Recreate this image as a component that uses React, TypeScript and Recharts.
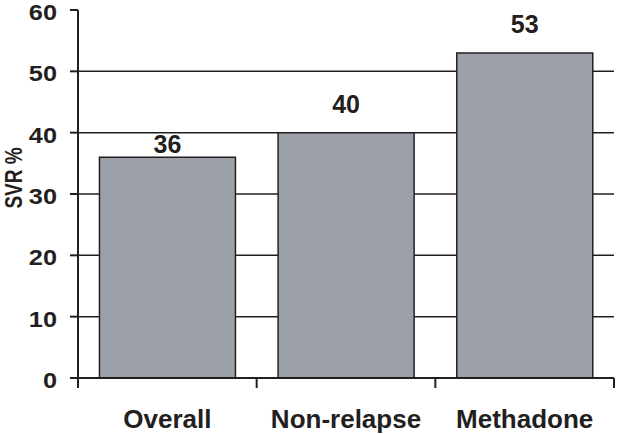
import React from 'react';
import { BarChart, Bar, XAxis, YAxis, CartesianGrid, LabelList, Label } from 'recharts';

const categories = ['Overall', 'Non-relapse', 'Methadone'];
const svrValues = [36, 40, 53];
const yTicks = [0, 10, 20, 30, 40, 50, 60];
const gridValues = [10, 20, 30, 40, 50];

const data = categories.map((name, i) => ({ name, svr: svrValues[i] }));

const FONT = '"Liberation Sans", Arial, Helvetica, sans-serif';
const INK = '#231f20';

const XTick = (props: any) => {
  const { x, y, payload, index, visibleTicksCount } = props;
  const off = payload && payload.offset ? payload.offset : 0;
  const isLast = index === (visibleTicksCount || 3) - 1;
  return (
    <g>
      <line x1={x - off} x2={x - off} y1={y} y2={y + 10} stroke={INK} strokeWidth={2} />
      {isLast && <line x1={x + off} x2={x + off} y1={y} y2={y + 10} stroke={INK} strokeWidth={2} />}
      <text x={x} y={y + 50} textAnchor="middle" fontFamily={FONT} fontWeight="bold" fontSize={26} fill={INK}>
        {payload.value}
      </text>
    </g>
  );
};

const YTick = (props: any) => {
  const { x, y, payload } = props;
  return (
    <text
      transform={`translate(${x}, ${y + 2.5}) scale(1.15, 1)`}
      x={0}
      y={0}
      textAnchor="end"
      dominantBaseline="central"
      fontFamily={FONT}
      fontWeight="bold"
      fontSize={22}
      fill={INK}
    >
      {payload.value}
    </text>
  );
};

const ValueLabel = (props: any) => {
  const { x, y, width, value } = props;
  const lift = value === 36 ? 4 : 20;
  return (
    <text x={x + width / 2} y={y - lift} textAnchor="middle" fontFamily={FONT} fontWeight="bold" fontSize={25} fill={INK}>
      {value}
    </text>
  );
};

const YLabel = (props: any) => {
  const vb = props.viewBox || { x: 0, y: 10, width: 78, height: 368 };
  const cx = vb.x + 14;
  const cy = vb.y + vb.height / 2 - 16;
  return (
    <text
      transform={`translate(${cx}, ${cy}) rotate(-90) scale(1, 1.25)`}
      x={0}
      y={0}
      textAnchor="middle"
      dominantBaseline="central"
      fontFamily={FONT}
      fontWeight="bold"
      fontSize={19}
      fill={INK}
    >
      SVR %
    </text>
  );
};

export default function App() {
  return (
    <div style={{ position: 'absolute', left: 0, top: 0, background: '#fff' }}>
      <BarChart
        width={617}
        height={434}
        data={data}
        margin={{ top: 10, right: 3, left: 0, bottom: 0 }}
        barCategoryGap="12%"
      >
        <CartesianGrid vertical={false} horizontalValues={gridValues} stroke={INK} strokeWidth={1.5} />
        <XAxis
          dataKey="name"
          height={56}
          tickLine={false}
          tickSize={0}
          tickMargin={0}
          axisLine={{ stroke: INK, strokeWidth: 2 }}
          tick={<XTick />}
          interval={0}
        />
        <YAxis
          width={78}
          domain={[0, 60]}
          ticks={yTicks}
          interval={0}
          tickSize={8}
          tickMargin={13}
          tickLine={{ stroke: INK, strokeWidth: 2 }}
          axisLine={{ stroke: INK, strokeWidth: 2 }}
          tick={<YTick />}
        >
          <Label content={<YLabel />} />
        </YAxis>
        <Bar dataKey="svr" fill="#9ca1a9" stroke={INK} strokeWidth={1.5} isAnimationActive={false}>
          <LabelList dataKey="svr" content={<ValueLabel />} />
        </Bar>
      </BarChart>
    </div>
  );
}
